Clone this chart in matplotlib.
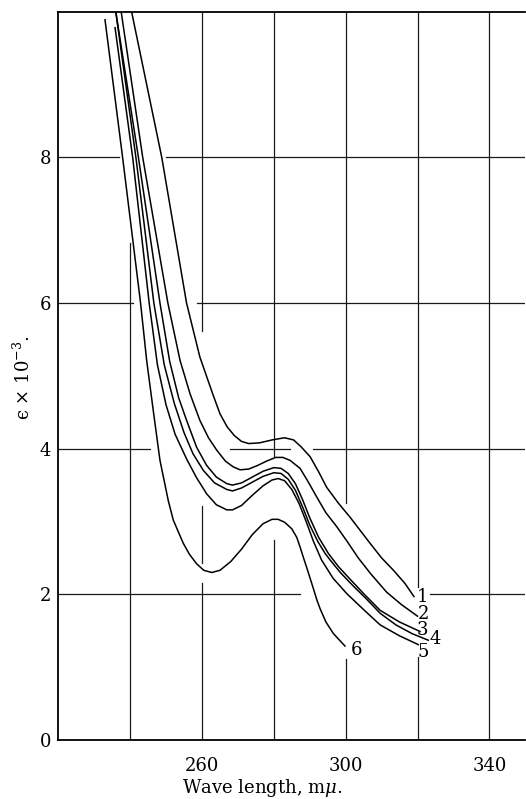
import matplotlib
matplotlib.use("Agg")
import matplotlib.pyplot as plt

# wave length (m-mu) and epsilon x 10^-3, curves 1..6
x1 = [240.4, 248.8, 255.7, 259.4, 263.0, 265.0, 267.0, 269.0, 271.0, 273.0, 276.0, 279.5, 283.0, 285.5,
      287.5, 290.1, 292.5, 294.7, 298.0, 301.2, 304.0, 306.8, 310.0, 313.3, 316.5, 319.0]
y1 = [10.0, 8.0, 6.0, 5.26, 4.75, 4.48, 4.30, 4.18, 4.10, 4.07, 4.08, 4.12, 4.15, 4.12,
      4.03, 3.89, 3.68, 3.47, 3.25, 3.06, 2.88, 2.70, 2.50, 2.33, 2.15, 1.97]

x2 = [237.5, 243.5, 250.5, 253.9, 256.7, 259.4, 261.8, 264.1, 266.5, 268.7, 270.6, 273.0, 275.5, 278.0,
      280.5, 282.5, 284.5, 287.3, 289.5, 291.9, 294.5, 297.5, 300.5, 303.5, 307.0, 311.4, 315.5, 320.0]
y2 = [10.0, 8.0, 6.0, 5.21, 4.75, 4.39, 4.15, 3.98, 3.83, 3.75, 3.71, 3.72, 3.77, 3.83,
      3.88, 3.88, 3.84, 3.73, 3.55, 3.34, 3.12, 2.93, 2.72, 2.50, 2.28, 2.03, 1.86, 1.70]

x3 = [236.0, 242.3, 248.3, 251.0, 253.5, 255.7, 258.5, 261.3, 264.0, 266.9, 268.5, 271.0, 274.0, 277.0,
      280.0, 282.0, 284.0, 286.0, 288.0, 290.0, 292.5, 295.2, 298.0, 301.0, 305.0, 309.6, 315.0, 320.7]
y3 = [10.0, 8.0, 6.0, 5.20, 4.70, 4.39, 4.02, 3.77, 3.61, 3.52, 3.50, 3.53, 3.61, 3.69,
      3.74, 3.73, 3.66, 3.52, 3.30, 3.05, 2.78, 2.56, 2.38, 2.22, 2.01, 1.78, 1.62, 1.49]

x4 = [236.0, 241.6, 246.6, 249.5, 252.3, 255.0, 257.5, 260.4, 263.5, 266.9, 268.5, 271.0, 274.0,
      277.0, 280.0, 282.0, 284.0, 286.0, 288.0, 290.0, 292.3, 294.3, 295.7, 298.5, 302.0, 305.5, 309.6,
      314.0, 318.5, 323.0]
y4 = [10.0, 8.0, 6.0, 5.15, 4.62, 4.22, 3.93, 3.70, 3.53, 3.44, 3.42, 3.46, 3.54,
      3.62, 3.67, 3.66, 3.58, 3.43, 3.20, 2.95, 2.72, 2.56, 2.47, 2.30, 2.12, 1.95, 1.74,
      1.58, 1.46, 1.37]

x5 = [235.8, 240.7, 245.3, 247.6, 250.0, 252.5, 255.7, 258.5, 261.3, 264.0, 266.9, 268.5, 271.0,
      274.0, 277.0, 279.5, 281.2, 283.0, 285.0, 287.0, 289.0, 291.0, 293.3, 296.5, 300.3, 305.0, 309.6,
      315.0, 320.2]
y5 = [9.78, 8.0, 6.0, 5.15, 4.60, 4.20, 3.86, 3.60, 3.38, 3.23, 3.16, 3.16, 3.22,
      3.36, 3.49, 3.57, 3.59, 3.56, 3.44, 3.25, 3.00, 2.73, 2.47, 2.22, 2.01, 1.79, 1.58,
      1.43, 1.31]

x6 = [233.0, 237.9, 240.4, 242.9, 244.6, 246.5, 248.3, 250.6, 252.0, 254.8, 256.5, 258.5, 260.5, 262.7,
      265.0, 268.0, 271.0, 274.0, 277.0, 279.5, 281.2, 283.0, 285.0, 286.4, 287.3, 288.2, 289.2, 290.1,
      291.0, 292.0, 292.9, 294.5, 296.6, 299.8]
y6 = [9.89, 8.0, 7.0, 6.0, 5.21, 4.50, 3.84, 3.29, 3.02, 2.70, 2.55, 2.42, 2.33, 2.30,
      2.33, 2.45, 2.62, 2.82, 2.97, 3.03, 3.03, 2.99, 2.90, 2.78, 2.65, 2.51, 2.36, 2.22,
      2.08, 1.92, 1.80, 1.62, 1.46, 1.29]

curves = [(x1, y1), (x2, y2), (x3, y3), (x4, y4), (x5, y5), (x6, y6)]
curve_names = ["1", "2", "3", "4", "5", "6"]
label_x = [321.4, 321.8, 321.4, 324.8, 321.6, 303.1]
label_y = [1.97, 1.73, 1.51, 1.39, 1.21, 1.23]

x_ticks = [260, 300, 340]
y_ticks = [0, 2, 4, 6, 8]

# drafted grid is broken where the curves pass
h_grid = {8: [(220, 237.0), (249.9, 351)],
          6: [(220, 240.8), (258.6, 351)],
          4: [(220, 245.5), (267.8, 284.5), (290.9, 351)],
          2: [(220, 287.3), (323.5, 351)]}
v_grid = {240: [(0, 6.82)],
          260: [(0, 2.15), (2.43, 3.21), (5.62, 10)],
          280: [(0, 2.74), (3.90, 10)],
          300: [(0, 1.11), (3.25, 10)],
          320: [(0, 1.14), (2.10, 10)],
          340: [(0, 10)]}

plt.rcParams["font.family"] = ["DejaVu Serif"]
plt.rcParams["mathtext.fontset"] = "dejavuserif"

fig = plt.figure(figsize=(5.26, 7.99), dpi=100)
ax = fig.add_axes([58.3 / 526, 59 / 799, 467 / 526, 728.3 / 799])

for yv, segs in h_grid.items():
    for a, b in segs:
        ax.plot([a, b], [yv, yv], color="#1a1a1a", lw=0.9, zorder=1)
for xv, segs in v_grid.items():
    for a, b in segs:
        ax.plot([xv, xv], [a, b], color="#1a1a1a", lw=0.9, zorder=1)

for (xs, ys), name, lx, ly in zip(curves, curve_names, label_x, label_y):
    ax.plot(xs, ys, color="black", lw=1.1, zorder=3)
    ax.text(lx, ly, name, fontsize=13, ha="center", va="center", zorder=4)

ax.set_xlim(220, 350)
ax.set_ylim(0, 10)
ax.set_xticks(x_ticks)
ax.set_yticks(y_ticks)
ax.tick_params(axis="both", length=0, labelsize=13)
ax.tick_params(axis="x", pad=12)
ax.tick_params(axis="y", pad=5)

ax.spines["right"].set_visible(False)
for s in ["left", "bottom", "top"]:
    ax.spines[s].set_linewidth(1.3)

ax.set_xlabel(r"Wave length, m$\mu$.", fontsize=13)
ax.xaxis.set_label_coords(0.436, -0.066)
ax.xaxis.label.set_va("center")
ax.set_ylabel("\u03f5 \u00d7 10$^{-3}$.", fontsize=13)
ax.yaxis.set_label_coords(-0.0756, 0.498)
ax.yaxis.label.set_va("center")

fig.savefig("out.png", dpi=100)
